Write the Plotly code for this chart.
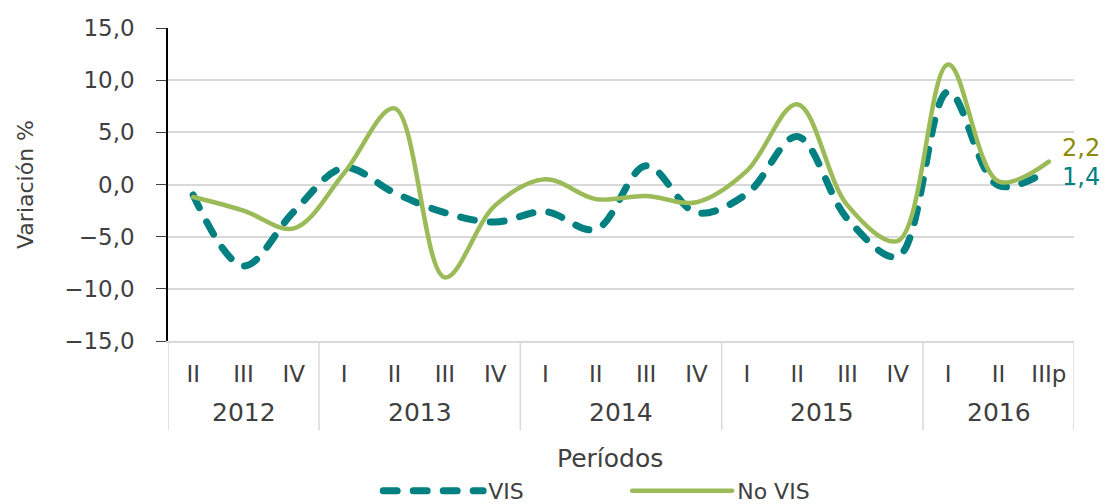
import plotly.graph_objects as go

# ---- data ----
years = ["2012"] * 3 + ["2013"] * 4 + ["2014"] * 4 + ["2015"] * 4 + ["2016"] * 3
quarters = ["II", "III", "IV",
            "I", "II", "III", "IV",
            "I", "II", "III", "IV",
            "I", "II", "III", "IV",
            "I", "II", "IIIp"]
vis = [-1.0, -7.8, -2.6, 1.6, -0.8, -2.7, -3.6, -2.6, -4.3,
       1.8, -2.7, -0.9, 4.6, -3.3, -6.9, 8.9, -0.1, 1.4]
no_vis = [-1.2, -2.5, -4.2, 1.1, 7.3, -8.9, -2.0, 0.5, -1.4,
          -1.1, -1.7, 1.3, 7.7, -2.0, -5.4, 11.5, 0.3, 2.2]
y_ticks = [-15, -10, -5, 0, 5, 10, 15]

TEAL = "#008080"
GREEN = "#9bbb59"
OLIVE = "#8c8a0a"
TXT = "#404040"
GRID = "#d9d9d9"
FONT = "DejaVu Sans, Verdana, Arial, sans-serif"

idx = list(range(len(quarters)))


def fmt(v):
    return f"{v:.1f}".replace(".", ",")


fig = go.Figure()
fig.add_trace(go.Scatter(
    x=idx, y=vis, name="VIS", mode="lines",
    line=dict(color=TEAL, width=7, dash="14px,16px", shape="spline", smoothing=1.0),
))
fig.add_trace(go.Scatter(
    x=idx, y=no_vis, name="No VIS", mode="lines",
    line=dict(color=GREEN, width=4.5, shape="spline", smoothing=1.0),
))

# year group labels and dividers, derived from the years list
groups = []
for i, yv in enumerate(years):
    if not groups or groups[-1][0] != yv:
        groups.append([yv, i, i])
    else:
        groups[-1][2] = i

annotations = []
shapes = []
for yv, i0, i1 in groups:
    annotations.append(dict(text=yv, x=(i0 + i1) / 2, xref="x", y=-0.23, yref="paper",
                            xanchor="center", yanchor="middle", showarrow=False,
                            font=dict(size=25, color=TXT, family=FONT)))
    shapes.append(dict(type="line", xref="x", yref="paper", x0=i0 - 0.5, x1=i0 - 0.5,
                       y0=0, y1=-0.285, line=dict(color=GRID, width=1.5)))
shapes.append(dict(type="line", xref="x", yref="paper", x0=len(years) - 0.5,
                   x1=len(years) - 0.5, y0=0, y1=-0.285, line=dict(color=GRID, width=1.5)))

# end-value labels
annotations.append(dict(text=fmt(no_vis[-1]), x=idx[-1], y=no_vis[-1], xref="x", yref="y",
                        xanchor="left", yanchor="middle", xshift=11, yshift=14, showarrow=False,
                        font=dict(size=24, color=OLIVE, family=FONT)))
annotations.append(dict(text=fmt(vis[-1]), x=idx[-1], y=vis[-1], xref="x", yref="y",
                        xanchor="left", yanchor="middle", xshift=11, yshift=-7, showarrow=False,
                        font=dict(size=24, color=TEAL, family=FONT)))
annotations.append(dict(text="Períodos", xref="paper", yref="paper", x=0.488, y=-0.374,
                        xanchor="center", yanchor="middle", showarrow=False,
                        font=dict(size=25, color=TXT, family=FONT)))

fig.update_layout(
    width=1108, height=504,
    margin=dict(l=168, r=34, t=28, b=163, autoexpand=False),
    paper_bgcolor="white", plot_bgcolor="white",
    separators=",.",
    font=dict(family=FONT, color=TXT, size=22),
    showlegend=True,
    legend=dict(orientation="h", x=0.232, xanchor="left", y=-0.412, yanchor="top",
                font=dict(size=22, color=TXT, family=FONT), itemwidth=100,
                entrywidth=134, bgcolor="rgba(0,0,0,0)"),
    annotations=annotations,
    shapes=shapes,
)
fig.update_yaxes(
    range=[-15, 15], tickvals=y_ticks, tickformat=".1f",
    showgrid=True, gridcolor=GRID, gridwidth=1.5,
    zeroline=False, showline=True, linecolor="black", linewidth=1.5,
    ticks="outside", ticklen=10, tickcolor="#404040", ticklabelstandoff=17,
    tickfont=dict(size=23, color=TXT, family=FONT),
    title=dict(text="Variación %", font=dict(size=22, color=TXT, family=FONT), standoff=24),
)
fig.update_xaxes(
    range=[-0.5, len(quarters) - 0.5], tickvals=idx, ticktext=quarters,
    showgrid=False, zeroline=False, showline=True, linecolor=GRID, linewidth=1.5,
    ticks="", ticklabelstandoff=12, tickfont=dict(size=23, color=TXT, family=FONT),
)

post = ("document.body.style.margin='0';"
        "document.querySelectorAll('path.js-line').forEach(function(p){"
        "p.style.strokeLinecap='round';});")
fig.write_html("out.html", post_script=post, config={"displayModeBar": False})
